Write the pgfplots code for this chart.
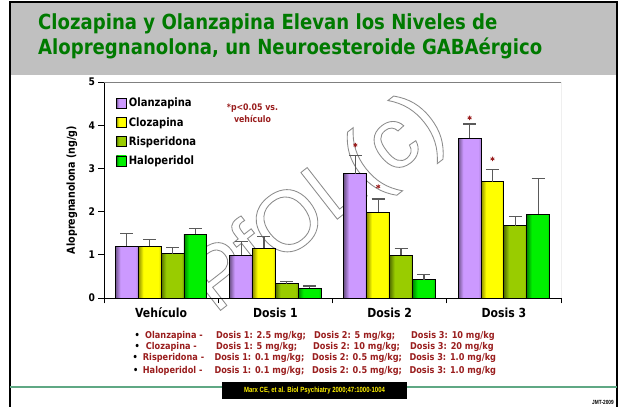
\documentclass[border=0pt]{standalone}
\usepackage{pgfplots}
\pgfplotsset{compat=1.18}
\usepackage{pgfplotstable}
\usepackage{fontspec}
\setmainfont{DejaVu Sans}[FakeStretch=0.87]
\newfontfamily\wmfont{Liberation Sans}
\newfontfamily\reffont{Liberation Sans}[FakeStretch=0.8]

\definecolor{olz}{HTML}{CC99FF}
\definecolor{clz}{HTML}{FFFF00}
\definecolor{rsp}{HTML}{99CC00}
\definecolor{hal}{HTML}{00F000}
\definecolor{dred}{HTML}{9A1E1E}
\definecolor{tgreen}{HTML}{007A00}
\definecolor{band}{HTML}{C0C0C0}
\definecolor{lgreen}{HTML}{5FA884}
\definecolor{errgray}{HTML}{5A5A5A}

% bar shading: dark left edge, bright body, slightly dark right edge
\newcommand{\mkshade}[1]{%
  \pgfdeclarehorizontalshading{#1sh}{100bp}{color(0bp)=(#1!55!black);
    color(25bp)=(#1!55!black); color(36bp)=(#1); color(69bp)=(#1);
    color(75bp)=(#1!82!black); color(100bp)=(#1!82!black)}}
\mkshade{olz}\mkshade{clz}\mkshade{rsp}\mkshade{hal}

% x: 0 Vehiculo, 1 Dosis 1, 2 Dosis 2, 3 Dosis 3 ; *e = error (plus)
\pgfplotstableread{
x  O     Oe    C     Ce    R     Re    H     He
0  1.20  0.29  1.20  0.15  1.03  0.14  1.47  0.14
1  0.99  0.32  1.15  0.28  0.33  0.05  0.23  0.05
2  2.88  0.41  1.99  0.30  0.99  0.16  0.42  0.13
3  3.70  0.33  2.69  0.28  1.67  0.21  1.94  0.83
}\datatable

\pgfplotsset{
  shbar/.style={ybar, bar shift=0pt, draw=black, line width=0.9pt,
    shade, shading=#1sh},
}

% one bar per \addplot so that every bar gets its own shading
% #1 extra options, #2 colour, #3 category, #4 offset, #5 value column, #6 error column
\newcommand{\onebar}[6]{%
  \pgfmathsetmacro\barlo{#3#4-0.05}%
  \pgfmathsetmacro\barhi{#3#4+0.05}%
  \edef\barcmd{\noexpand\addplot[shbar=#2, #1, restrict x to domain=\barlo:\barhi]}%
  \barcmd table[x expr=\thisrow{x}#4, y=#5, y error=#6] {\datatable};}

\begin{document}
\begin{tikzpicture}
\useasboundingbox (0,0) rectangle (619bp,407bp);
\fill[white] (0,0) rectangle (619bp,407bp);

% title band
\fill[band] (10bp,332bp) rectangle (617bp,404.5bp);
\draw[black, line width=2pt] (10bp,0bp) -- (10bp,404.5bp) -- (617bp,404.5bp) -- (617bp,0bp);
\node[anchor=base west, inner sep=0pt, text=tgreen, font=\bfseries\fontsize{20.8bp}{24bp}\selectfont]
  at (38bp,377bp) {Clozapina y Olanzapina Elevan los Niveles de};
\node[anchor=base west, inner sep=0pt, text=tgreen, font=\bfseries\fontsize{20.8bp}{24bp}\selectfont]
  at (38bp,352bp) {Alopregnanolona, un Neuroesteroide GABAérgico};

% watermark, outlined letters (text render mode 1)
\node[rotate=38, text=black!45, inner sep=0pt] at (318bp,201bp)
  {\wmfont\fontsize{86bp}{86bp}\selectfont
   \special{pdf:literal direct 1 Tr 0.85 w}PfOL(c)\special{pdf:literal direct 0 Tr}};

\begin{axis}[
  at={(104bp,109bp)}, anchor=south west,
  scale only axis, width=457bp, height=216bp,
  xmin=-0.5, xmax=3.5, ymin=0, ymax=5,
  axis x line*=bottom, axis y line*=left,
  axis line style={black, line width=1pt},
  xtick={-0.5,0.5,1.5,2.5,3.5}, xticklabels={},
  ytick={0,1,2,3,4,5},
  tick align=outside, major tick length=5.5bp,
  tick style={black, line width=0.8pt},
  extra x ticks={0,1,2,3},
  extra x tick labels={Vehículo,Dosis 1,Dosis 2,Dosis 3},
  extra x tick style={major tick length=0pt,
    tick label style={font=\bfseries\fontsize{12.5bp}{15bp}\selectfont, yshift=-6bp}},
  yticklabel style={font=\bfseries\fontsize{10.5bp}{13bp}\selectfont},
  /pgf/number format/assume math mode=true,
  ylabel={Alopregnanolona (ng/g)},
  ylabel style={font=\bfseries\fontsize{11bp}{13bp}\selectfont,
    at={(axis description cs:-0.07,0.5)}, anchor=center},
  legend style={at={(axis description cs:0.026,0.935)}, anchor=north west,
    draw=none, fill=none, inner sep=0pt, row sep=5bp,
    font=\bfseries\fontsize{11.5bp}{13bp}\selectfont},
  legend cell align=left,
  legend image code/.code={\draw[#1, draw=black, line width=0.8pt] (0bp,-5bp) rectangle (10bp,5bp);},
  bar width=0.2,
  error bars/y dir=plus, error bars/y explicit,
  error bars/error bar style={errgray, line width=1.2pt},
  error bars/error mark options={rotate=90, errgray, mark size=6.5bp, line width=1.2pt},
]
\onebar{}{olz}{0}{-0.3}{O}{Oe}
\onebar{}{clz}{0}{-0.1}{C}{Ce}
\onebar{}{rsp}{0}{+0.1}{R}{Re}
\onebar{}{hal}{0}{+0.3}{H}{He}
\legend{Olanzapina, Clozapina, Risperidona, Haloperidol}
\pgfplotsinvokeforeach{1,2,3}{
  \onebar{forget plot}{olz}{#1}{-0.3}{O}{Oe}
  \onebar{forget plot}{clz}{#1}{-0.1}{C}{Ce}
  \onebar{forget plot}{rsp}{#1}{+0.1}{R}{Re}
  \onebar{forget plot}{hal}{#1}{+0.3}{H}{He}
}
% significance asterisks
\addplot[only marks, forget plot, mark=asterisk, mark size=2.2bp, dred, line width=0.8pt]
  coordinates {(1.7,3.54) (1.9,2.58) (2.7,4.17) (2.9,3.22)};
\draw[gray, line width=0.8pt] (rel axis cs:0,1) -- (rel axis cs:1,1) -- (rel axis cs:1,0);
\end{axis}

% p-value note
\node[text=dred, font=\bfseries\fontsize{9bp}{11bp}\selectfont, align=center, inner sep=0pt]
  at (252.5bp,294bp) {*p<0.05 vs.\\[1.5bp]vehículo};

% dose notes
\begin{scope}[every node/.style={anchor=base west, inner sep=0pt,
    font=\bfseries\fontsize{9.4bp}{11bp}\selectfont, text=dred}]
\node[text=black] at (134.5bp,68.7bp) {•};
\node at (145bp,68.7bp) {Olanzapina -};
\node at (216bp,68.7bp) {Dosis 1: 2.5 mg/kg;};
\node at (314bp,68.7bp) {Dosis 2: 5 mg/kg;};
\node at (411bp,68.7bp) {Dosis 3: 10 mg/kg};
\node[text=black] at (134.5bp,57bp) {•};
\node at (145.7bp,57bp) {Clozapina -};
\node at (216bp,57bp) {Dosis 1: 5 mg/kg;};
\node at (313bp,57bp) {Dosis 2: 10 mg/kg;};
\node at (410bp,57bp) {Dosis 3: 20 mg/kg};
\node[text=black] at (132.5bp,46bp) {•};
\node at (142.7bp,46bp) {Risperidona -};
\node at (214.3bp,46bp) {Dosis 1: 0.1 mg/kg;};
\node at (312bp,46bp) {Dosis 2: 0.5 mg/kg;};
\node at (409.3bp,46bp) {Dosis 3: 1.0 mg/kg};
\node[text=black] at (133bp,34bp) {•};
\node at (142.7bp,34bp) {Haloperidol -};
\node at (214.3bp,34bp) {Dosis 1: 0.1 mg/kg;};
\node at (312bp,34bp) {Dosis 2: 0.5 mg/kg;};
\node at (409.3bp,34bp) {Dosis 3: 1.0 mg/kg};
\end{scope}

% footer
\draw[lgreen, line width=2.2bp] (10bp,20bp) -- (617bp,20bp);
\fill[black] (222bp,8bp) rectangle (407bp,25.3bp);
\node[text=yellow, font=\reffont\bfseries\fontsize{7.5bp}{9bp}\selectfont, inner sep=0pt]
  at (314.5bp,16.6bp) {Marx CE, et al. Biol Psychiatry 2000;47:1000-1004};
\node[anchor=east, font=\reffont\bfseries\fontsize{6bp}{7bp}\selectfont, inner sep=0pt]
  at (614bp,4.3bp) {JMT-2009};
\end{tikzpicture}
\end{document}
